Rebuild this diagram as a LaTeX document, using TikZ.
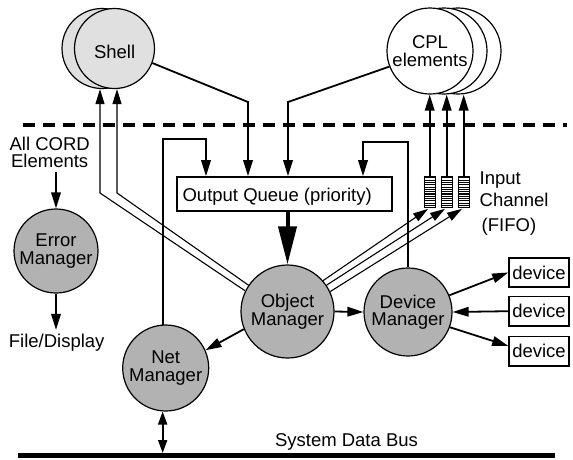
\documentclass[tikz,border=0pt]{standalone}
\usepackage{fontspec}
\setmainfont{Liberation Sans}
\usetikzlibrary{arrows.meta,calc}
\definecolor{mgrgray}{gray}{0.70}
\definecolor{shellgray}{gray}{0.88}
\lineskiplimit=-50pt
\begin{document}
\begin{tikzpicture}[x=1pt,y=-1pt,
  txt/.style={font=\fontsize{18.5}{17.5}\selectfont, inner sep=0pt, align=center},
  mgr/.style={circle, draw, line width=1.2pt, fill=mgrgray, minimum size=#1, inner sep=0pt, align=center, font=\fontsize{18.5}{17.5}\selectfont},
  shellc/.style={circle, draw, line width=1.2pt, fill=shellgray, minimum size=80pt, inner sep=0pt},
  cplc/.style={circle, draw, line width=1.2pt, fill=white, minimum size=86pt, inner sep=0pt, align=center},
  devbox/.style={draw, line width=1.6pt, minimum width=60pt, minimum height=29.5pt, inner sep=0pt, font=\fontsize{18.5}{17.5}\selectfont},
  fifo/.style={draw, line width=1.1pt, fill=white, minimum width=11pt, minimum height=31pt, inner sep=0pt},
  arr/.style={line width=1.8pt, -{Triangle[length=16pt,width=9.5pt]}},
  tarr/.style={line width=1.1pt, -{Triangle[length=15pt,width=9pt]}},
  darr/.style={line width=1.8pt, {Triangle[length=13pt,width=9pt]}-{Triangle[length=13pt,width=9pt]}},
]
\useasboundingbox (0,0) rectangle (573,459);

% dashed boundary
\coordinate (dl) at (23,125);
\coordinate (dr) at (567,125);
\draw[line width=3.5pt, dash pattern=on 11.5pt off 8.5pt] (dl) -- (dr);

% system bus
\coordinate (busL) at (18,455.5);
\coordinate (busR) at (555,455.5);
\coordinate (bustop) at (0,453);
\draw[line width=5.5pt] (busL) -- (busR);
\node[txt, anchor=base] (buslabel) at (346.5,446.5) {System Data Bus};

% Shell
\node[shellc] (shellB) at (102,48.5) {};
\node[shellc] (shell) at (114.5,48.5) {};
\node[txt, anchor=base] (shelltxt) at (114.6,58.3) {Shell};

% CPL elements
\node[cplc] (cplC) at (458,51) {};
\node[cplc] (cplB) at (444,51) {};
\node[cplc, font=\fontsize{18.5}{18.3}\selectfont] (cpl) at (430,51) {CPL\\elements};

% managers
\node[mgr=84pt] (em) at (56,251) {Error\\Manager};
\node[mgr=86pt] (nm) at (165.7,368) {Net\\Manager};
\node[mgr=93pt] (om) at (287.5,311.5) {Object\\Manager};
\node[mgr=88pt] (dm) at (408,312) {Device\\Manager};

% devices
\node[devbox] (dev1) at (539,272.5) {device};
\node[devbox] (dev2) at (539,311.2) {device};
\node[devbox] (dev3) at (539,351.3) {device};

% output queue
\node[draw, line width=1.6pt, minimum width=215pt, minimum height=34pt, inner sep=0pt] (oq) at (284.5,194) {};
\node[txt, anchor=base west] (oqtxt) at (182.4,201) {Output Queue (priority)};

% FIFO stacks
\node[fifo] (f1) at (429.7,191.7) {};
\node[fifo] (f2) at (446.7,191.7) {};
\node[fifo] (f3) at (463.7,191.7) {};
\foreach \n in {f1,f2,f3}{
  \foreach \k in {1,...,13}{
    \draw[line width=1.1pt] ($(\n.north west)!\k/14!(\n.south west)$) -- ($(\n.north east)!\k/14!(\n.south east)$);
  }
}
\node[txt, anchor=base west] (in1) at (479.5,184) {Input};
\node[txt, anchor=base west] (in2) at (479.5,206.7) {Channel};
\node[txt, anchor=base west] (in3) at (481.5,231) {(FIFO)};

% left texts
\node[txt, anchor=base] (cord1) at (49.7,150.3) {All CORD};
\node[txt, anchor=base] (cord2) at (49.7,167.6) {Elements};
\node[txt, anchor=base] (fd) at (56.7,347) {File/Display};

% connectors
\draw[arr, shorten <=4.5pt] (cord2.south -| em.north) -- (em.north);
\draw[arr, shorten >=3.5pt] (em.south) -- (em.south |- fd.north);

\coordinate (c1) at (248,102);
\draw[arr] (shell.-21) -- (c1) -- (c1 |- oq.north);
\coordinate (c2) at (288,102);
\draw[arr] (cpl.201) -- (c2) -- (c2 |- oq.north);
\coordinate (c4) at (206,139);
\draw[arr] (nm.94) |- (c4) -- (c4 |- oq.north);
\coordinate (c5) at (363,142);
\draw[arr] (dm.north) |- (c5) -- (c5 |- oq.north);

\draw[line width=4pt, -{Triangle[length=38pt,width=18pt]}] (om.north |- oq.south) -- (om.north);

\coordinate (b1) at (117,193);
\coordinate (b2) at (100,193);
\draw[tarr] (om.146) -- (b1) -- (b1 |- shell.south);
\draw[tarr] (om.154) -- (b2) -- (b2 |- shellB.south);

\draw[tarr, shorten >=2pt] (om.41) -- (f1.south);
\draw[tarr, shorten >=2pt] (om.34) -- (f2.south);
\draw[tarr, shorten >=2pt] (om.25) -- (f3.south);

\draw[arr] (f1.north) -- (f1.north |- cpl.south);
\draw[arr] (f2.north) -- (f2.north |- cpl.south);
\draw[arr] (f3.north) -- (f3.north |- cpl.south);

\draw[arr] (om.east) -- (dm.west);
\draw[arr] (om.202) -- (nm.24);
\draw[darr] (nm.266) -- (nm.266 |- bustop);

\draw[arr] (dm.22) -- (dev1.west);
\draw[arr] (dev2.west) -- (dm.east);
\draw[arr] (dm.-20) -- (dev3.170);
\end{tikzpicture}
\end{document}
